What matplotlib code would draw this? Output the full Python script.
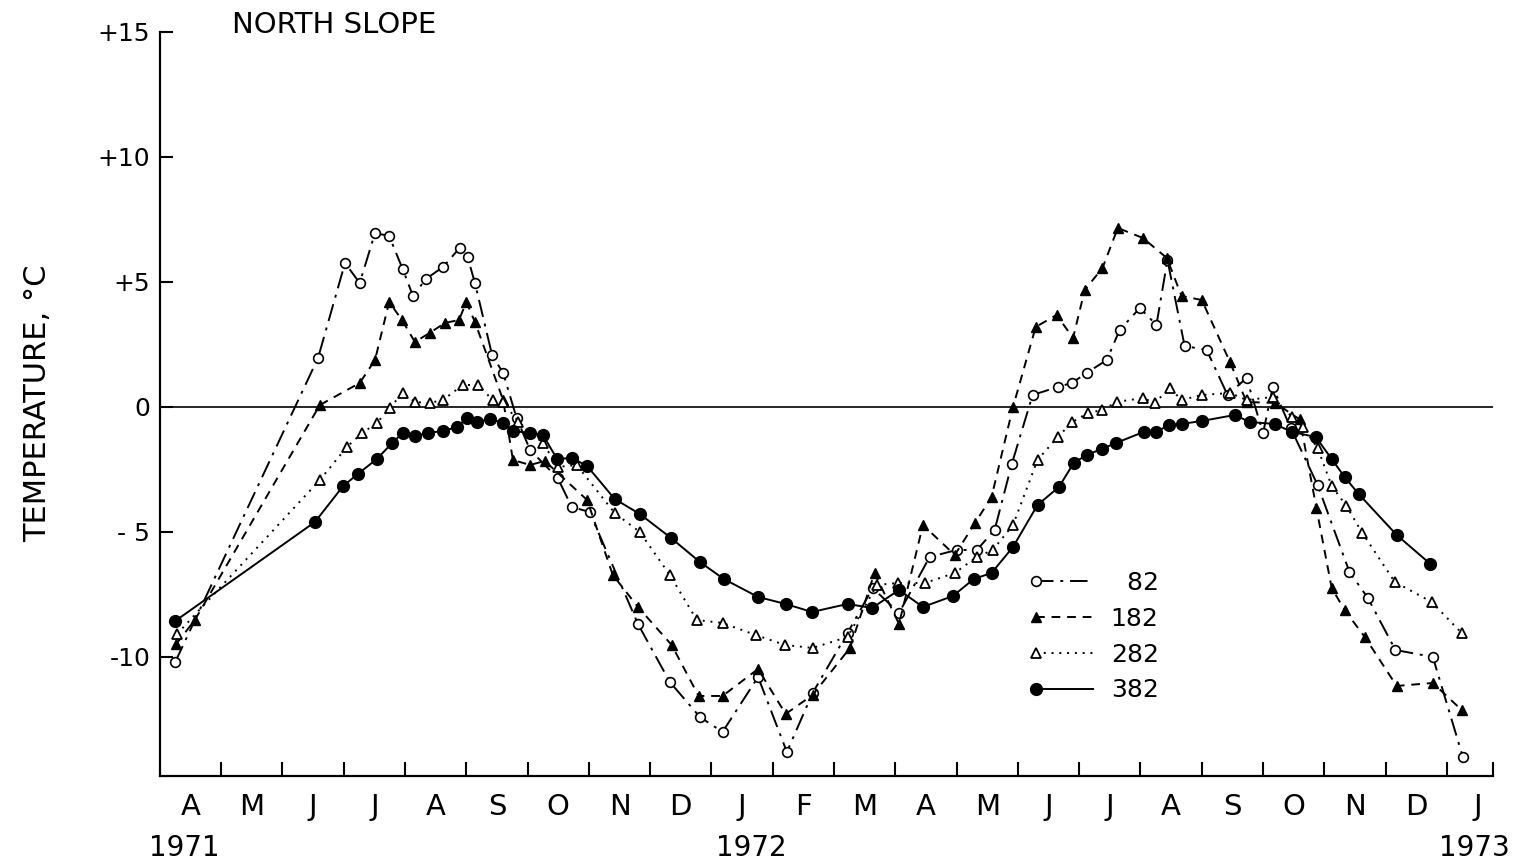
import numpy as np
import matplotlib
matplotlib.use("Agg")
import matplotlib.pyplot as plt
from matplotlib.legend_handler import HandlerLine2D

# x = months since 1 April 1971, y = soil temperature (deg C)
months_82 = [0.25, 2.58, 3.02, 3.26, 3.51, 3.74, 3.96, 4.13, 4.34, 4.62, 4.89, 5.02, 5.14, 5.42, 5.60,
             5.82, 6.04, 6.49, 6.72, 7.01, 7.80, 8.32, 8.81, 9.18, 9.76, 10.23, 10.65, 11.22, 11.63,
             12.06, 12.56, 13.00, 13.33, 13.62, 13.90, 14.24, 14.65, 14.88, 15.12, 15.45, 15.66, 15.99,
             16.26, 16.44, 16.72, 17.08, 17.42, 17.73, 18.00, 18.16, 18.45, 18.89, 19.41, 19.71, 20.16,
             20.77, 21.26]
temp_82 = [-10.2, 1.96, 5.76, 4.96, 6.96, 6.84, 5.52, 4.44, 5.12, 5.6, 6.36, 6.0, 4.96, 2.08, 1.36,
           -0.44, -1.72, -2.84, -4.0, -4.2, -8.68, -11.0, -12.4, -13.0, -10.8, -13.8, -11.44, -9.04, -7.24,
           -8.24, -6.0, -5.72, -5.72, -4.92, -2.28, 0.48, 0.8, 0.96, 1.36, 1.88, 3.08, 3.96,
           3.28, 5.88, 2.44, 2.28, 0.48, 1.16, -1.04, 0.8, -0.84, -3.12, -6.6, -7.64, -9.72,
           -10.0, -14.0]

months_182 = [0.26, 0.57, 2.61, 3.26, 3.51, 3.74, 3.95, 4.16, 4.40, 4.65, 4.88, 5.00, 5.14, 5.60, 5.76,
              6.04, 6.28, 6.97, 7.39, 7.80, 8.35, 8.79, 9.18, 9.76, 10.21, 10.65, 11.26, 11.66, 12.06,
              12.45, 12.97, 13.30, 13.57, 13.92, 14.29, 14.63, 14.90, 15.09, 15.38, 15.63, 16.04, 16.43,
              16.67, 17.00, 17.46, 17.73, 18.20, 18.60, 18.87, 19.12, 19.33, 19.66, 20.18, 20.77, 21.24]
temp_182 = [-9.5, -8.52, 0.08, 0.96, 1.88, 4.2, 3.48, 2.6, 2.96, 3.36, 3.48, 4.2, 3.4, 0.28, -2.12,
            -2.32, -2.16, -3.72, -6.72, -8.0, -9.52, -11.56, -11.56, -10.48, -12.28, -11.52, -9.64, -6.64, -8.68,
            -4.72, -5.92, -4.64, -3.6, 0.0, 3.2, 3.68, 2.76, 4.68, 5.56, 7.16, 6.76, 5.96,
            4.44, 4.28, 1.8, 0.2, 0.16, -0.5, -4.04, -7.24, -8.12, -9.2, -11.16, -11.04, -12.12]

months_282 = [0.28, 2.61, 3.05, 3.30, 3.54, 3.75, 3.96, 4.16, 4.40, 4.62, 4.94, 5.19, 5.43, 5.60, 5.85,
              6.25, 6.49, 6.80, 7.42, 7.83, 8.32, 8.76, 9.18, 9.72, 10.20, 10.65, 11.22, 11.70, 12.04,
              12.48, 12.97, 13.33, 13.59, 13.92, 14.32, 14.65, 14.89, 15.14, 15.38, 15.61, 16.04, 16.23,
              16.48, 16.67, 17.00, 17.46, 17.73, 18.16, 18.47, 18.65, 18.89, 19.12, 19.36, 19.62, 20.15,
              20.75, 21.24]
temp_282 = [-9.08, -2.92, -1.6, -1.04, -0.64, -0.04, 0.56, 0.2, 0.16, 0.28, 0.88, 0.88, 0.28, 0.2, -0.6,
            -1.44, -2.4, -2.32, -4.24, -5.0, -6.72, -8.52, -8.64, -9.12, -9.52, -9.64, -9.2, -7.12, -7.04,
            -7.04, -6.64, -6.0, -5.72, -4.72, -2.12, -1.2, -0.6, -0.24, -0.12, 0.2, 0.36, 0.16,
            0.76, 0.28, 0.48, 0.56, 0.28, 0.4, -0.4, -0.8, -1.64, -3.16, -3.96, -5.04, -7.0,
            -7.8, -9.04]

months_382 = [0.25, 2.53, 2.99, 3.23, 3.54, 3.79, 3.96, 4.16, 4.37, 4.62, 4.85, 5.01, 5.17, 5.38, 5.60,
              5.76, 6.04, 6.25, 6.48, 6.72, 6.97, 7.42, 7.83, 8.34, 8.81, 9.20, 9.76, 10.21, 10.64,
              11.22, 11.62, 12.06, 12.45, 12.94, 13.28, 13.57, 13.92, 14.32, 14.67, 14.91, 15.12, 15.37,
              15.60, 16.05, 16.26, 16.46, 16.67, 17.00, 17.54, 17.78, 18.19, 18.47, 18.86, 19.12, 19.33,
              19.56, 20.18, 20.73]
temp_382 = [-8.56, -4.6, -3.16, -2.68, -2.08, -1.44, -1.04, -1.16, -1.04, -0.96, -0.8, -0.44, -0.6, -0.48, -0.64,
            -0.96, -1.04, -1.12, -2.08, -2.04, -2.36, -3.68, -4.28, -5.24, -6.2, -6.88, -7.6, -7.88, -8.2,
            -7.88, -8.04, -7.32, -8.0, -7.56, -6.88, -6.64, -5.6, -3.92, -3.2, -2.24, -1.92, -1.68,
            -1.44, -1.0, -1.0, -0.72, -0.68, -0.56, -0.32, -0.6, -0.68, -1.0, -1.2, -2.08, -2.8,
            -3.48, -5.12, -6.28]

month_letters = ["A", "M", "J", "J", "A", "S", "O", "N", "D", "J", "F",
                 "M", "A", "M", "J", "J", "A", "S", "O", "N", "D", "J"]
year_labels = ["1971", "1972", "1973"]
year_pos = [0.4, 9.65, 21.45]
yticks = [15, 10, 5, 0, -5, -10]
ytick_labels = ["+15", "+10", "+5", "0", "- 5", "-10"]


class MarkerAtStart(HandlerLine2D):
    # legend sample: line with a single marker at its left end
    def create_artists(self, *args, **kwargs):
        artists = super().create_artists(*args, **kwargs)
        for a in artists:
            a.set_markevery([0])
        return artists


fig = plt.figure(figsize=(15.13, 8.67), dpi=100)
ax = fig.add_axes([0.1057, 0.105, 0.881, 0.8581])

lw = 1.4
ax.axhline(0, color="black", lw=1.2, zorder=1)
l82, = ax.plot(months_82, temp_82, color="black", lw=lw, linestyle=(0, (9, 3.5, 1.5, 3.5)),
               marker="o", ms=7, mfc="white", mec="black", mew=1.2, zorder=3, label="  82")
l182, = ax.plot(months_182, temp_182, color="black", lw=lw, linestyle=(0, (4.5, 3.5)),
                marker="^", ms=6.5, mfc="black", mec="black", zorder=3, label="182")
l282, = ax.plot(months_282, temp_282, color="black", lw=lw, linestyle=(0, (1, 3)),
                marker="^", ms=7, mfc="white", mec="black", mew=1.3, zorder=3, label="282")
l382, = ax.plot(months_382, temp_382, color="black", lw=lw, linestyle="-",
                marker="o", ms=8.5, mfc="black", mec="black", zorder=4, label="382")

ax.set_xlim(0, 21.75)
ax.set_ylim(-14.76, 15)

for side in ("top", "right"):
    ax.spines[side].set_visible(False)
for side in ("left", "bottom"):
    ax.spines[side].set_linewidth(1.6)

# y axis
ax.set_yticks(yticks)
ax.set_yticklabels(ytick_labels, fontsize=18)
ax.tick_params(axis="y", direction="in", length=9, width=1.5, pad=7)

# x axis: ticks at month boundaries, letters centred in each month
ax.set_xticks(list(range(1, 22)) + [21.75])
ax.set_xticklabels([])
ax.tick_params(axis="x", which="major", direction="in", length=10, width=1.5)
ax.set_xticks(np.arange(len(month_letters)) + 0.5, minor=True)
ax.set_xticklabels(month_letters, minor=True, fontsize=21)
ax.tick_params(axis="x", which="minor", length=0, pad=12)

for lab, xp in zip(year_labels, year_pos):
    ax.text(xp, -0.097, lab, transform=ax.get_xaxis_transform(), ha="center", va="center",
            fontsize=20)

fig.text(0.025, 0.535, "TEMPERATURE, °C", rotation=90, ha="center", va="center", fontsize=22)
fig.text(0.1533, 0.971, "NORTH SLOPE", ha="left", va="center", fontsize=21)

ax.legend(handles=[l82, l182, l282, l382], loc="upper left", bbox_to_anchor=(0.642, 0.292),
          frameon=False, fontsize=18, numpoints=2, handlelength=2.9, handletextpad=0.4,
          labelspacing=0.47, borderpad=0, handler_map={matplotlib.lines.Line2D: MarkerAtStart()})

fig.savefig("out.png", dpi=100)
